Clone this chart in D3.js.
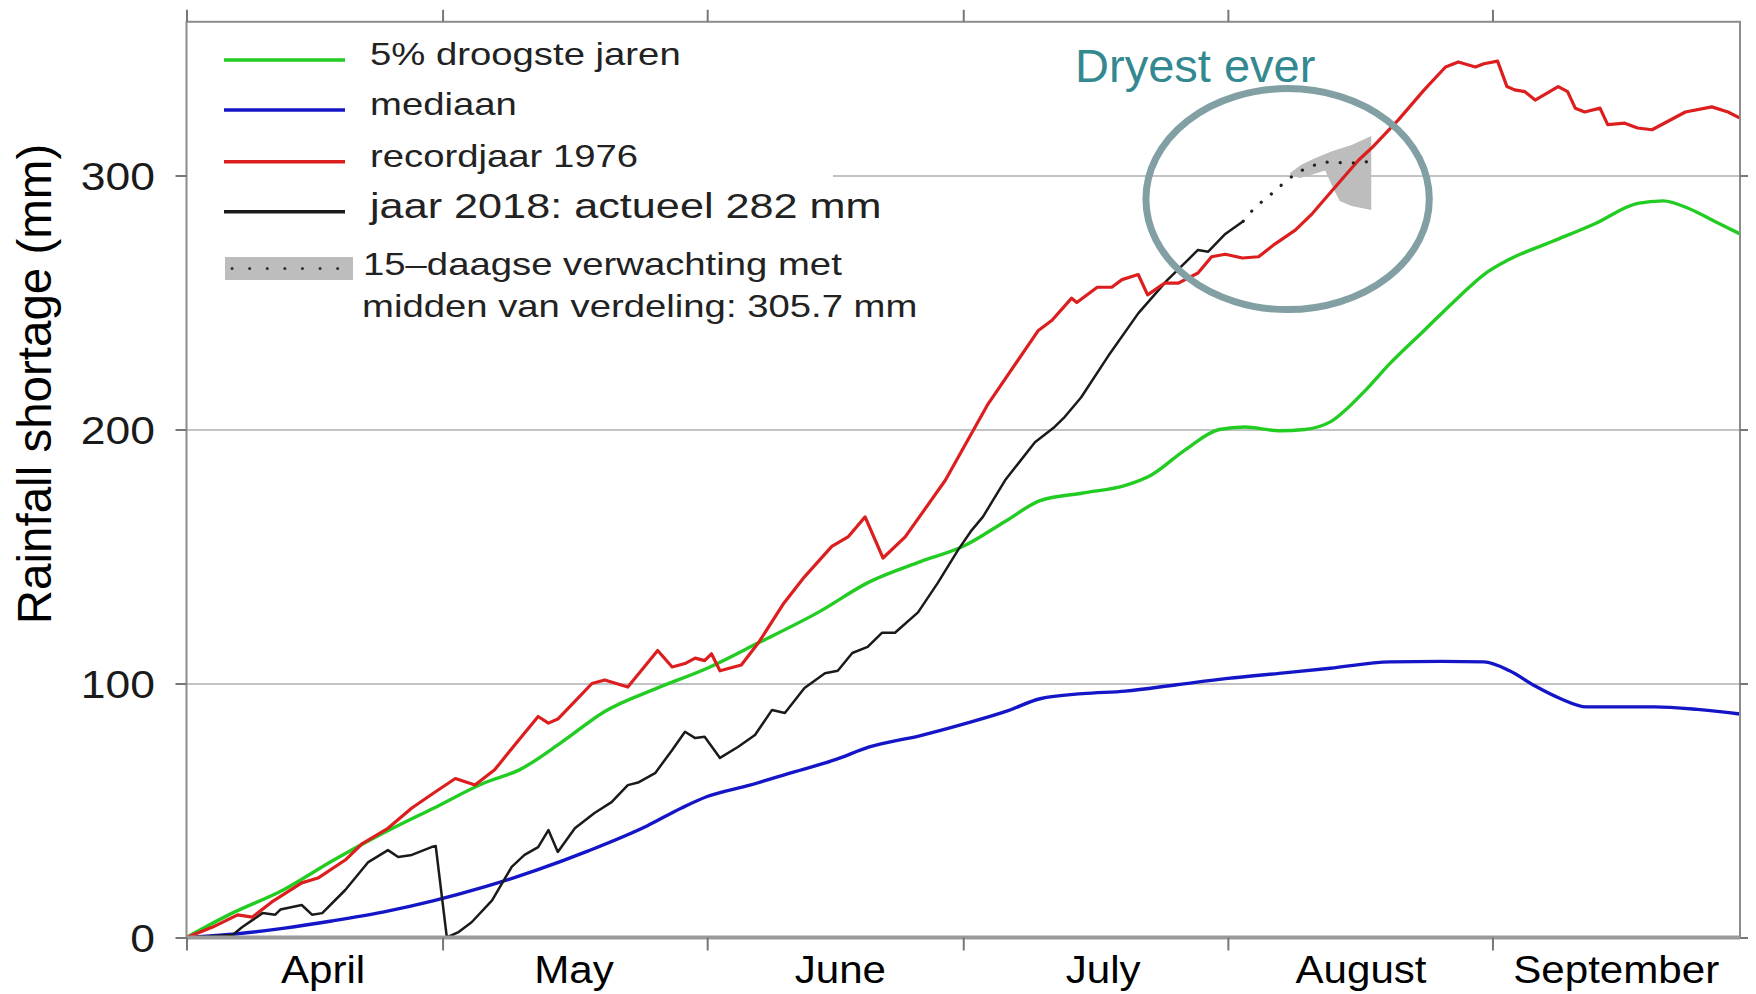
<!DOCTYPE html>
<html>
<head>
<meta charset="utf-8">
<script src="https://cdn.jsdelivr.net/npm/d3@7"></script>
<style>
  body { margin: 0; background: #fff; }
  svg { display: block; font-family: "Liberation Sans", Arial, sans-serif; }
</style>
</head>
<body>
<div id="container"></div>
<script>
// dag 0 = 1 april, waarden in mm neerslagtekort
const maandStart = [0, 30, 61, 91, 122, 153];
const maandMidden = [16, 45.4, 76.6, 107.4, 137.6, 167.5];
const maandLabels = ["April", "May", "June", "July", "August", "September"];
const yTicks = [0, 100, 200, 300];
const gridTicks = [100, 200, 300];

const droogste5 = [[0,0],[5,9],[11.5,19],[17,30],[23,41],[29,51],[35,61],[39,66],[44,77],[49,89],[55,98],
  [61,106],[67,116],[74,128],[80,140],[86,148],[91,154],[96,164],[100,172],[105,175],[110,178],[113,182],
  [117,192],[121,200],[124,201],[128,199.5],[131,200],[134,203],[138,215],[141,226],[145,239],[149,252],
  [152,261],[155,267],[160,274],[165,281],[170,289],[173,290],[176,287],[179,282],[182,277]];

const mediaan = [[0,0],[6,1.5],[11.5,3.7],[17,6.5],[23,10],[29,14.5],[35,20],[41,26.5],[47,34],[54,44],
  [58,51],[61,55.5],[66,60],[71,65],[76,70],[80,75],[86,79.5],[91,84],[96,89],[100,94],[105,96],[110,97],
  [116,99.5],[122,102],[128,104],[134,106],[141,108.5],[147,108.7],[152,108.5],[155,105],[158,99],[161,94],
  [164,90.8],[168,90.8],[172,90.8],[177,89.8],[182,88]];

const record1976 = [[0,0],[3,4],[6,8.9],[7.7,8],[10,14],[13.5,21.5],[15.4,23.4],[18.6,30.5],[20.6,37],
  [23.6,43],[26.4,51],[29,57],[31.5,62.6],[33.8,60],[36.1,66],[38.5,76],[41.2,87],[42.4,84.4],[43.5,86],
  [45.5,93],[47.5,100],[49,101.4],[51.7,98.6],[53.5,106],[55.2,113],[56.9,106.5],[58.5,108],[59.6,110],
  [60.7,109],[61.5,111.7],[62.5,105],[65,107.3],[67,116],[70,131.7],[72.4,142],[75.6,154],[77.5,157.7],
  [79.5,165.6],[81.6,149.4],[84.2,157.7],[88.9,180],[93.9,210],[99.8,239],[101.4,243],[103.7,251.7],
  [104.3,250],[106.7,256],[108.4,256],[109.6,259],[111.5,261],[112.6,253],[114.6,257.6],[116.2,257.6],
  [118.5,261.6],[120.1,268],[121.7,269],[123.7,267.5],[125.6,268],[127.5,273],[129.9,278.5],[131.9,285],
  [134.2,294],[137.3,306],[138.9,311],[142,322],[145,333.7],[147.5,342.7],[149,344.7],[151,342.7],
  [152,344],[153.6,345],[154.7,335],[155.6,333.7],[156.8,333],[158,329.7],[160.7,335],[161.8,333],
  [162.7,326.5],[163.8,325],[165.6,326.5],[166.5,320],[168.5,320.6],[170,318.7],[171.7,318],[175.6,325],
  [178.7,327],[180.6,325],[182,322.6]];

const jaar2018 = [[0,0],[5.4,1],[6.5,4],[8.9,9.6],[10.4,9],[11,11],[13.5,12.8],[14.7,9],[15.9,9.6],
  [18.6,18.7],[21.3,29.7],[23.6,34.4],[24.8,31.7],[26.4,32.5],[28.7,35.6],[29.2,36],[30.5,0],[31.8,2],
  [33.4,6],[35.8,14.6],[38.1,27.8],[39.6,32.5],[41.2,35.6],[42.4,42.3],[43.5,33.7],[45.5,43],[47.8,49],
  [49.8,53.3],[51.7,60],[52.9,61],[54.9,64.7],[56.9,73.8],[58.4,81],[59.6,78.5],[60.7,79],[62.5,70.7],
  [64.6,75],[66.6,79.7],[68.6,89.6],[70.1,88.4],[72.4,98.2],[74.8,104],[76.3,105],[78,112],[79.8,114.4],
  [81.5,120],[83,120],[85.7,128],[88,139.5],[90.4,152.6],[92,160.4],[93.3,165.6],[95.9,180],[99.4,195],
  [101.7,201],[102.9,205],[104.8,212.6],[108,229],[111.5,245.7],[114.9,258.8],[117.3,266.7],[118.5,270.7],
  [119.7,270],[121.7,277],[123.8,282]];

const verwachting = [[123.8,282],[125.2,287.6],[126.7,291.5],[128.3,296.3],[129.9,300.6],[131.4,303.3],
  [133.4,305.3],[135.5,305],[137.5,305],[138.8,305.7]];
// [dag, onder, boven]
const verwachtingBand = [[129.3,300,301],[130.5,299,304],[132,300.5,306.5],[133.4,302,308.5],
  [134.2,296,309.5],[135.1,290,310.5],[136.5,288,312],[138.8,286.4,315.5]];

const legendLabels = ["5% droogste jaren", "mediaan", "recordjaar 1976", "jaar 2018: actueel 282 mm"];
const legendColors = ["#22cc22", "#1515c8", "#dc1e1e", "#1a1a1a"];
const bandLabels = ["15\u2013daagse verwachting met", "midden van verdeling: 305.7 mm"];

const width = 1756, height = 994;
const pLeft = 186.5, pRight = 1740, pTop = 21.8, pBottom = 937.5;

const x = d3.scaleLinear().domain([0, 182]).range([pLeft, pRight]);
const y = d3.scaleLinear().domain([0, 360.5]).range([pBottom, pTop]);

const svg = d3.select("#container")
  .append("svg")
    .attr("width", width)
    .attr("height", height);

svg.append("rect").attr("width", width).attr("height", height).attr("fill", "#fff");

// gridlijnen
svg.append("g")
    .attr("transform", `translate(${pLeft},0)`)
    .call(d3.axisLeft(y).tickValues(gridTicks).tickSize(-(pRight - pLeft)).tickFormat(""))
    .call(g => g.select(".domain").remove())
  .selectAll("line")
    .attr("stroke", "#c3c3c3")
    .attr("stroke-width", 2);

// witte legendavlak over het raster
svg.append("rect")
    .attr("x", pLeft + 1).attr("y", pTop + 2)
    .attr("width", 832 - pLeft).attr("height", 312)
    .attr("fill", "#fff");

// onzekerheid verwachting
svg.append("path")
    .datum(verwachtingBand)
    .attr("fill", "#bdbdbd")
    .attr("d", d3.area().x(d => x(d[0])).y0(d => y(d[1])).y1(d => y(d[2])));

const smooth = d3.line().x(d => x(d[0])).y(d => y(d[1])).curve(d3.curveMonotoneX);
const jagged = d3.line().x(d => x(d[0])).y(d => y(d[1]));

const reeksen = [
  { data: droogste5, color: legendColors[0], w: 3.4, line: smooth },
  { data: mediaan, color: legendColors[1], w: 3.4, line: smooth },
  { data: jaar2018, color: legendColors[3], w: 2.5, line: jagged },
  { data: record1976, color: legendColors[2], w: 3.2, line: jagged }
];

svg.append("g")
    .attr("fill", "none")
    .attr("stroke-linejoin", "round")
  .selectAll("path")
  .data(reeksen)
  .join("path")
    .attr("stroke", d => d.color)
    .attr("stroke-width", d => d.w)
    .attr("d", d => d.line(d.data));

svg.append("path")
    .datum(verwachting)
    .attr("fill", "none")
    .attr("stroke", "#222")
    .attr("stroke-width", 3.2)
    .attr("stroke-linecap", "round")
    .attr("stroke-dasharray", "0.1 13")
    .attr("d", jagged);

// kader en assen
svg.append("rect")
    .attr("x", pLeft).attr("y", pTop)
    .attr("width", pRight - pLeft).attr("height", pBottom - pTop)
    .attr("fill", "none")
    .attr("stroke", "#8c8c8c")
    .attr("stroke-width", 2);

svg.append("line")
    .attr("x1", pLeft).attr("x2", pRight)
    .attr("y1", pBottom).attr("y2", pBottom)
    .attr("stroke", "#9a9a9a")
    .attr("stroke-width", 4);

const tickStyle = g => g.selectAll("line").attr("stroke", "#777").attr("stroke-width", 2);

svg.append("g")
    .attr("transform", `translate(0,${pBottom})`)
    .call(d3.axisBottom(x).tickValues(maandStart).tickSize(13).tickFormat(""))
    .call(g => g.select(".domain").remove())
    .call(tickStyle);

svg.append("g")
    .attr("transform", `translate(0,${pTop})`)
    .call(d3.axisTop(x).tickValues(maandStart).tickSize(12).tickFormat(""))
    .call(g => g.select(".domain").remove())
    .call(tickStyle);

svg.append("g")
    .attr("transform", `translate(${pRight},0)`)
    .call(d3.axisRight(y).tickValues(yTicks).tickSize(8).tickFormat(""))
    .call(g => g.select(".domain").remove())
    .call(tickStyle);

const sy = 1.17;
svg.append("g")
    .attr("transform", `translate(${pLeft},0)`)
    .call(d3.axisLeft(y).tickValues(yTicks).tickSize(11))
    .call(g => g.select(".domain").remove())
    .call(tickStyle)
  .selectAll("text")
    .attr("x", -31.5 / sy)
    .attr("dy", "0.38em")
    .attr("transform", `scale(${sy},1)`)
    .attr("fill", "#1a1a1a")
    .style("font-family", '"Liberation Sans", Arial, sans-serif')
    .style("font-size", "38px");

// maandnamen
const sm = 1.08;
svg.append("g")
  .selectAll("text")
  .data(maandLabels)
  .join("text")
    .attr("transform", (d, i) => `translate(${x(maandMidden[i])},983) scale(${sm},1)`)
    .attr("text-anchor", "middle")
    .attr("fill", "#000")
    .style("font-size", "39px")
    .text(d => d);

svg.append("text")
    .attr("transform", "translate(51,384) rotate(-90)")
    .attr("text-anchor", "middle")
    .attr("fill", "#000")
    .style("font-size", "47.5px")
    .text("Rainfall shortage (mm)");

// legenda
const sl = 1.235;
const legendRows = [60, 110, 161.7, 211.7];
const legend = svg.append("g");
legend.selectAll("line")
  .data(legendLabels)
  .join("line")
    .attr("x1", 224).attr("x2", 345)
    .attr("y1", (d, i) => legendRows[i]).attr("y2", (d, i) => legendRows[i])
    .attr("stroke", (d, i) => legendColors[i])
    .attr("stroke-width", 3.5);
legend.selectAll("text.lbl")
  .data(legendLabels)
  .join("text")
    .attr("class", "lbl")
    .attr("transform", (d, i) => `translate(370,${legendRows[i] + (i === 3 ? 6.5 : 5)}) scale(${sl},1)`)
    .attr("fill", "#222")
    .style("font-size", (d, i) => i === 3 ? "35px" : "31px")
    .text(d => d);

legend.append("rect")
    .attr("x", 225).attr("y", 257)
    .attr("width", 128).attr("height", 23)
    .attr("fill", "#bdbdbd");
legend.append("line")
    .attr("x1", 232).attr("x2", 350)
    .attr("y1", 268.5).attr("y2", 268.5)
    .attr("stroke", "#333")
    .attr("stroke-width", 3)
    .attr("stroke-linecap", "round")
    .attr("stroke-dasharray", "0.1 17.5");
legend.selectAll("text.band")
  .data(bandLabels)
  .join("text")
    .attr("class", "band")
    .attr("transform", (d, i) => `translate(${363 - i},${275 + i * 42}) scale(${sl},1)`)
    .attr("fill", "#222")
    .style("font-size", "31px")
    .text(d => d);

// annotatie
const ann = { day: 129, mm: 290.7, rDays: 16.6, rMm: 43.5 };
svg.append("ellipse")
    .attr("cx", x(ann.day)).attr("cy", y(ann.mm))
    .attr("rx", x(ann.day + ann.rDays) - x(ann.day))
    .attr("ry", y(ann.mm - ann.rMm) - y(ann.mm))
    .attr("fill", "none")
    .attr("stroke", "#82a0a3")
    .attr("stroke-width", 7);

svg.append("text")
    .attr("x", x(104.1)).attr("y", y(336.9))
    .attr("fill", "#33898f")
    .style("font-size", "47px")
    .text("Dryest ever");
</script>
</body>
</html>
